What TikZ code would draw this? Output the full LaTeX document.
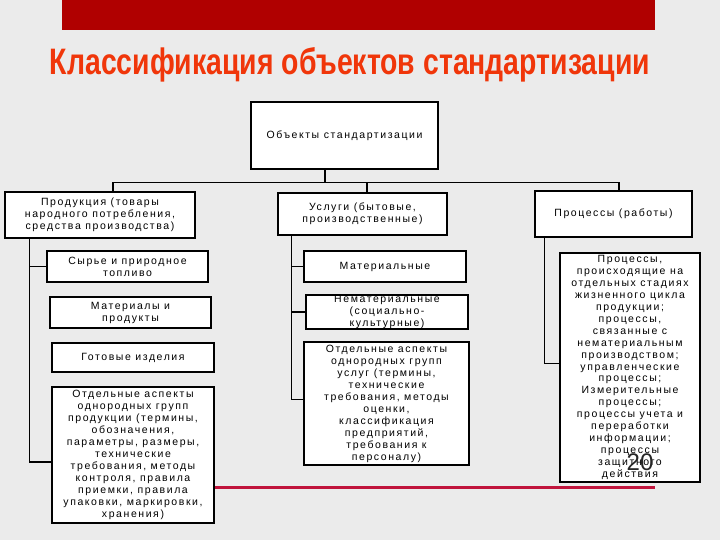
\documentclass[tikz,border=0pt]{standalone}
\usepackage{fontspec}
\setmainfont{Liberation Sans}
\newfontfamily\boxfont[LetterSpace=15]{Liberation Sans}
\definecolor{bgcol}{HTML}{EBEBEB}
\definecolor{bannercol}{HTML}{B00000}
\definecolor{titlecol}{HTML}{F0360A}
\definecolor{rulecol}{HTML}{C0143C}
\begin{document}
\begin{tikzpicture}[x=1pt,y=-1pt,
  box/.style={draw=black, line width=1.1pt, fill=white, inner sep=0pt, align=center,
    font=\boxfont\fontsize{10.5}{12}\selectfont},
  conn/.style={line width=1.1pt},
  spine/.style={line width=1.8pt}]
\fill[bgcol] (0,0) rectangle (720,540);
\useasboundingbox (0,0) rectangle (720,540);
\fill[bannercol] (62,0) rectangle (655,30);
\node[text=titlecol, inner sep=0pt] (title) at (350,65)
  {\resizebox{600pt}{27pt}{\bfseries Классификация объектов стандартизации}};
\draw[rulecol, line width=3pt] (210,487) -- (655,487);

\node[box, minimum width=187pt, minimum height=67pt] (top) at (344.5,135.5) {Объекты стандартизации};
\node[box, minimum width=190pt, minimum height=46pt] (p) at (100,215) {Продукция (товары\\народного потребления,\\средства производства)};
\node[box, minimum width=169pt, minimum height=42pt] (u) at (362.5,214) {Услуги (бытовые,\\производственные)};
\node[box, minimum width=157pt, minimum height=46pt] (r) at (613.5,214) {Процессы (работы)};

\node[box, minimum width=161pt, minimum height=31pt] (p1) at (127.5,266.5) {Сырье и природное\\топливо};
\node[box, minimum width=161pt, minimum height=31pt] (p2) at (130.5,312.5) {Материалы и\\продукты};
\node[box, minimum width=162pt, minimum height=29pt] (p3) at (133,357.5) {Готовые изделия};
\node[box, minimum width=162pt, minimum height=136pt] (p4) at (133,455) {Отдельные аспекты\\однородных групп\\продукции (термины,\\обозначения,\\параметры, размеры,\\технические\\требования, методы\\контроля, правила\\приемки, правила\\упаковки, маркировки,\\хранения)};

\node[box, minimum width=162pt, minimum height=31pt] (u1) at (385,266.5) {Материальные};
\node[box, minimum width=162pt, minimum height=34pt] (u2) at (387,312) {Нематериальные\\(социально-\\культурные)};
\node[box, minimum width=165pt, minimum height=123pt] (u3) at (386.5,403.5) {Отдельные аспекты\\однородных групп\\услуг (термины,\\технические\\требования, методы\\оценки,\\классификация\\предприятий,\\требования к\\персоналу)};

\node[box, minimum width=140pt, minimum height=229pt, font=\boxfont\fontsize{10.5}{11.9}\selectfont] (r1) at (630,367.5) {Процессы,\\происходящие на\\отдельных стадиях\\жизненного цикла\\продукции;\\процессы,\\связанные с\\нематериальным\\производством;\\управленческие\\процессы;\\Измерительные\\процессы;\\процессы учета и\\переработки\\информации;\\процессы\\защитного\\действия};

% connectors
\draw[conn] ([xshift=-19.5pt]top.south) -- ++(0,13) coordinate (hb);
\draw[conn] ([xshift=13pt]p.north) |- (hb) -| ([xshift=5.5pt]r.north);
\draw[conn] ([xshift=4.5pt]u.north) -- ([xshift=4.5pt]u.north |- hb);

\draw[spine] ([xshift=25pt]p.south west) |- ([yshift=-7pt]p4.west);
\draw[conn] ([xshift=25pt]p.south west |- p1.west) -- (p1.west);

\draw[spine] ([xshift=14pt]u.south west) |- ([yshift=4pt]u3.west);
\draw[conn] ([xshift=14pt]u.south west |- u1.west) -- (u1.west);
\draw[conn] ([xshift=14pt]u.south west |- u2.west) -- (u2.west);

\draw[spine] ([xshift=10pt]r.south west) |- ([yshift=4pt]r1.west);

\node[text=black!85, font=\fontsize{24}{24}\selectfont, inner sep=0pt] (pg) at (640,462) {20};
\end{tikzpicture}
\end{document}
